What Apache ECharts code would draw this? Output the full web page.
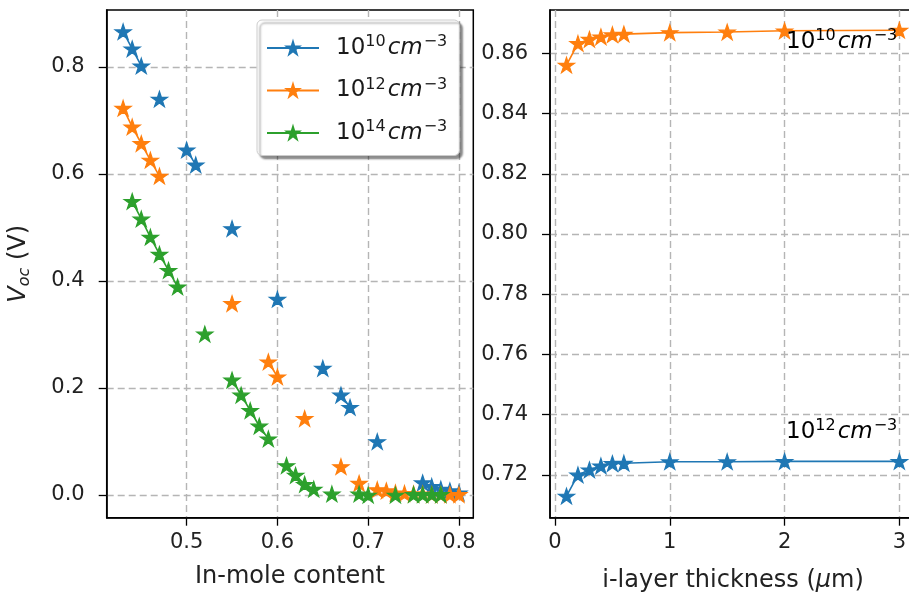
<!DOCTYPE html>
<html><head><meta charset="utf-8">
<script src="https://cdn.jsdelivr.net/npm/echarts@6/dist/echarts.min.js"></script>
<style>html,body{margin:0;padding:0;background:#fff}#c{width:909px;height:594px}</style>
</head><body><div id="c"></div>
<script>
// ---- data ----
const inMole = [0.43,0.44,0.45,0.46,0.47,0.48,0.49,0.50,0.51,0.52,0.53,0.54,0.55,0.56,0.57,0.58,0.59,0.60,0.61,0.62,0.63,0.64,0.65,0.66,0.67,0.68,0.69,0.70,0.71,0.72,0.73,0.74,0.75,0.76,0.77,0.78,0.79,0.80];
const voc1e10 = [0.866,0.834,0.802,null,0.740,null,null,0.645,0.617,null,null,null,0.498,null,null,null,null,0.366,null,null,null,null,0.237,null,0.187,0.164,null,null,0.100,null,null,null,null,0.023,0.016,0.011,0.008,0.004];
const voc1e12 = [0.723,0.688,0.657,0.626,0.596,null,null,null,null,null,null,null,0.358,null,null,null,0.249,0.221,null,null,0.143,null,null,null,0.053,null,0.022,null,0.010,0.008,0.004,0.003,0.002,0.002,0.001,0.001,0.001,0.001];
const voc1e14 = [null,0.549,0.516,0.482,0.450,0.420,0.389,null,null,0.301,null,null,0.215,0.187,0.158,0.129,0.105,null,0.055,0.037,0.020,0.011,null,0.002,null,null,0.002,0.000,null,null,0.000,null,0.001,0.001,0.001,0.001,null,null];
const thickness = [0.1,0.2,0.3,0.4,0.5,0.6,1.0,1.5,2.0,3.0];
const vocThickA = [0.8561,0.8633,0.8647,0.8655,0.8662,0.8664,0.8669,0.8671,0.8675,0.8677];
const vocThickB = [0.7130,0.7200,0.7217,0.7230,0.7238,0.7239,0.7244,0.7244,0.7245,0.7245];
const leftXTicks = [0.5,0.6,0.7,0.8];
const leftYTicks = [0.0,0.2,0.4,0.6,0.8];
const rightXTicks = [0,1,2,3];
const rightYTicks = [0.72,0.74,0.76,0.78,0.80,0.82,0.84,0.86];
const legendNames = ['n10','n12','n14'];
const legendLabels = {n10:'{b|10}{s|10}{i|cm}{s|−3}', n12:'{b|10}{s|12}{i|cm}{s|−3}', n14:'{b|10}{s|14}{i|cm}{s|−3}'};

// ---- style ----
const FONT = 'DejaVu Sans';
const C = {blue:'#1f77b4', orange:'#ff7f0e', green:'#2ca02c'};
const STAR = 'path://M100 0 L122.45 69.1 L195.11 69.1 L136.33 111.8 L158.78 180.9 L100 138.2 L41.22 180.9 L63.67 111.8 L4.89 69.1 L77.55 69.1 Z';
const richSup = {
  b:{fontFamily:FONT,fontSize:23,lineHeight:28,color:'#1a1a1a'},
  s:{fontFamily:FONT,fontSize:16,lineHeight:15,verticalAlign:'top',color:'#1a1a1a'},
  i:{fontFamily:FONT,fontSize:23,lineHeight:28,fontStyle:'italic',color:'#1a1a1a',padding:[0,1,0,2]}
};
const gridLine = {show:true,lineStyle:{color:'#b5b5b5',width:1.4,type:[7,4]}};
function axis(o){
  return Object.assign({
    type:'value', scale:false,
    axisLine:{show:true,onZero:false,lineStyle:{color:'#000',width:1.5}},
    axisTick:{show:true,length:8,inside:false,customValues:o.ticks,lineStyle:{color:'#000',width:1.3}},
    axisLabel:{customValues:o.ticks,fontFamily:FONT,fontSize:21,color:'#222',margin:o.margin,formatter:v=>v.toFixed(o.dec)},
    splitLine:gridLine,
    nameTextStyle:{fontFamily:FONT,fontSize:24,color:'#222'}
  }, o.extra);
}
function pairs(xs, ys){ return xs.map((x,i)=>[x, ys[i]===null ? '-' : ys[i]]); }
function lineSeries(name, xi, yi, data, color){
  return {type:'line', name, xAxisIndex:xi, yAxisIndex:yi, data,
    symbol:STAR, symbolSize:[16,15.2], showSymbol:true, showAllSymbol:true, connectNulls:false,
    lineStyle:{color,width:1.6}, itemStyle:{color, borderColor:color, borderWidth:1.2}, clip:false, animation:false,
    emphasis:{disabled:true}};
}

const chart = echarts.init(document.getElementById('c'), null, {renderer:'canvas'});
chart.setOption({
  animation:false,
  backgroundColor:'#fff',
  grid:[
    {left:106.7, top:10, width:366.6, height:507.7, show:true, borderColor:'#000', borderWidth:1.5, containLabel:false, outerBoundsMode:'none'},
    {left:550, top:10, width:366, height:507.7, show:true, borderColor:'#000', borderWidth:1.5, containLabel:false, outerBoundsMode:'none'}
  ],
  xAxis:[
    axis({ticks:leftXTicks, dec:1, margin:14, extra:{gridIndex:0, min:0.4119, max:0.8158,
      name:'In-mole content', nameLocation:'middle', nameGap:47}}),
    axis({ticks:rightXTicks, dec:0, margin:14, extra:{gridIndex:1, min:-0.0436, max:3.145,
      name:'{t|i-layer thickness (}{m|μ}{t|m)}', nameLocation:'middle', nameGap:51,
      nameTextStyle:{rich:{t:{fontFamily:FONT,fontSize:24,color:'#222'},m:{fontFamily:FONT,fontSize:24,fontStyle:'italic',color:'#222'}}}}})
  ],
  yAxis:[
    axis({ticks:leftYTicks, dec:1, margin:22, extra:{gridIndex:0, min:-0.0424, max:0.9065,
      name:'{v|V}{o|oc}{p| (V)}', nameLocation:'middle', nameRotate:90, nameGap:74,
      nameTextStyle:{rich:{v:{fontFamily:FONT,fontSize:24,fontStyle:'italic',lineHeight:28,color:'#222'},
        o:{fontFamily:FONT,fontSize:16,fontStyle:'italic',lineHeight:16,verticalAlign:'bottom',color:'#222'},
        p:{fontFamily:FONT,fontSize:24,lineHeight:28,color:'#222'}}}}}),
    axis({ticks:rightYTicks, dec:2, margin:22, extra:{gridIndex:1, min:0.7058, max:0.8744}})
  ],
  legend:{
    data:legendNames, orient:'vertical', left:257, top:20,
    backgroundColor:'#fff', borderColor:'#cccccc', borderWidth:1, borderRadius:5,
    shadowColor:'rgba(0,0,0,0.45)', shadowOffsetX:3, shadowOffsetY:3, shadowBlur:2,
    padding:[14,12,11,9], itemGap:17, itemWidth:52, itemHeight:15, selectedMode:false,
    formatter:n=>legendLabels[n],
    textStyle:{rich:richSup, padding:[0,0,0,12]}
  },
  series:[
    lineSeries('n10',0,0,pairs(inMole,voc1e10),C.blue),
    lineSeries('n12',0,0,pairs(inMole,voc1e12),C.orange),
    lineSeries('n14',0,0,pairs(inMole,voc1e14),C.green),
    lineSeries('thickA',1,1,pairs(thickness,vocThickA),C.orange),
    lineSeries('thickB',1,1,pairs(thickness,vocThickB),C.blue)
  ],
  graphic:[
    {type:'text', left:786, top:28, z:100, style:{text:legendLabels.n10, rich:richSup}},
    {type:'text', left:786, top:418, z:100, style:{text:legendLabels.n12, rich:richSup}}
  ]
});
</script></body></html>
